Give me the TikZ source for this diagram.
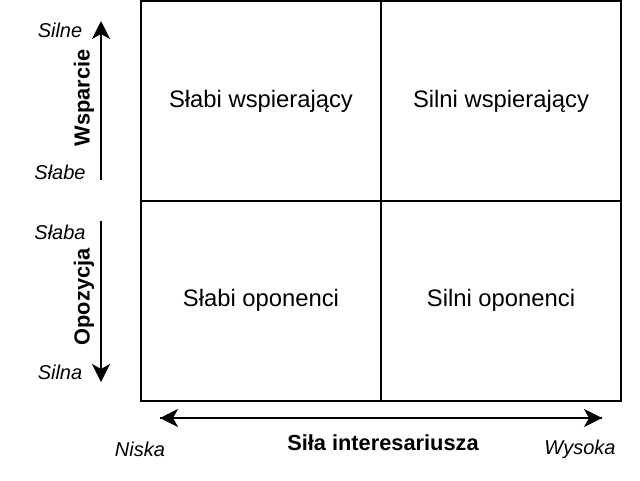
\documentclass[tikz,border=0pt]{standalone}
\usepackage{fontspec}
\setmainfont{Liberation Sans}
\usetikzlibrary{arrows.meta}

\begin{document}
\begin{tikzpicture}[x=1pt, y=-1pt, line width=2pt,
  cell/.style={font=\fontsize{23.8}{28}\selectfont},
  axis/.style={font=\bfseries\fontsize{21.8}{26}\selectfont},
  lvl/.style={font=\itshape\fontsize{20}{24}\selectfont},
  arr/.style={-{Stealth[length=18pt, width=18pt, inset=5pt]}}]

% obszar rysunku 640 x 480
\useasboundingbox (0,0) rectangle (640,480);

% macierz 2 x 2
\draw (141,1) rectangle (621,401);
\draw (381,1) -- (381,401);
\draw (141,201) -- (621,201);

% opisy pol
\node[cell] (sw) at (261,101) {Słabi wspierający};
\node[cell] (nw) at (501,101) {Silni wspierający};
\node[cell] (so) at (261,300) {Słabi oponenci};
\node[cell] (no) at (501,300) {Silni oponenci};

% os pionowa: wsparcie (w gore)
\coordinate (w0) at (101,180);
\coordinate (w1) at (101,21);
\draw[arr] (w0) -- (w1);
\node[axis, rotate=90] (wsp) at (84,98) {Wsparcie};
\node[lvl] (silne) at (60,30) {Silne};
\node[lvl] (slabe) at (60,172) {Słabe};

% os pionowa: opozycja (w dol)
\coordinate (o0) at (101,221);
\coordinate (o1) at (101,382);
\draw[arr] (o0) -- (o1);
\node[axis, rotate=90] (opo) at (84,297) {Opozycja};
\node[lvl] (slaba) at (60,232) {Słaba};
\node[lvl] (silna) at (60,372) {Silna};

% os pozioma: sila interesariusza
\coordinate (h0) at (160,418);
\coordinate (h1) at (602,418);
\draw[arr] (h0) -- (h1);
\draw[arr] (h1) -- (h0);
\node[lvl] (niska) at (140,449) {Niska};
\node[axis] (sila) at (383,443) {Siła interesariusza};
\node[lvl] (wysoka) at (580,449) {Wysoka};

\end{tikzpicture}
\end{document}
